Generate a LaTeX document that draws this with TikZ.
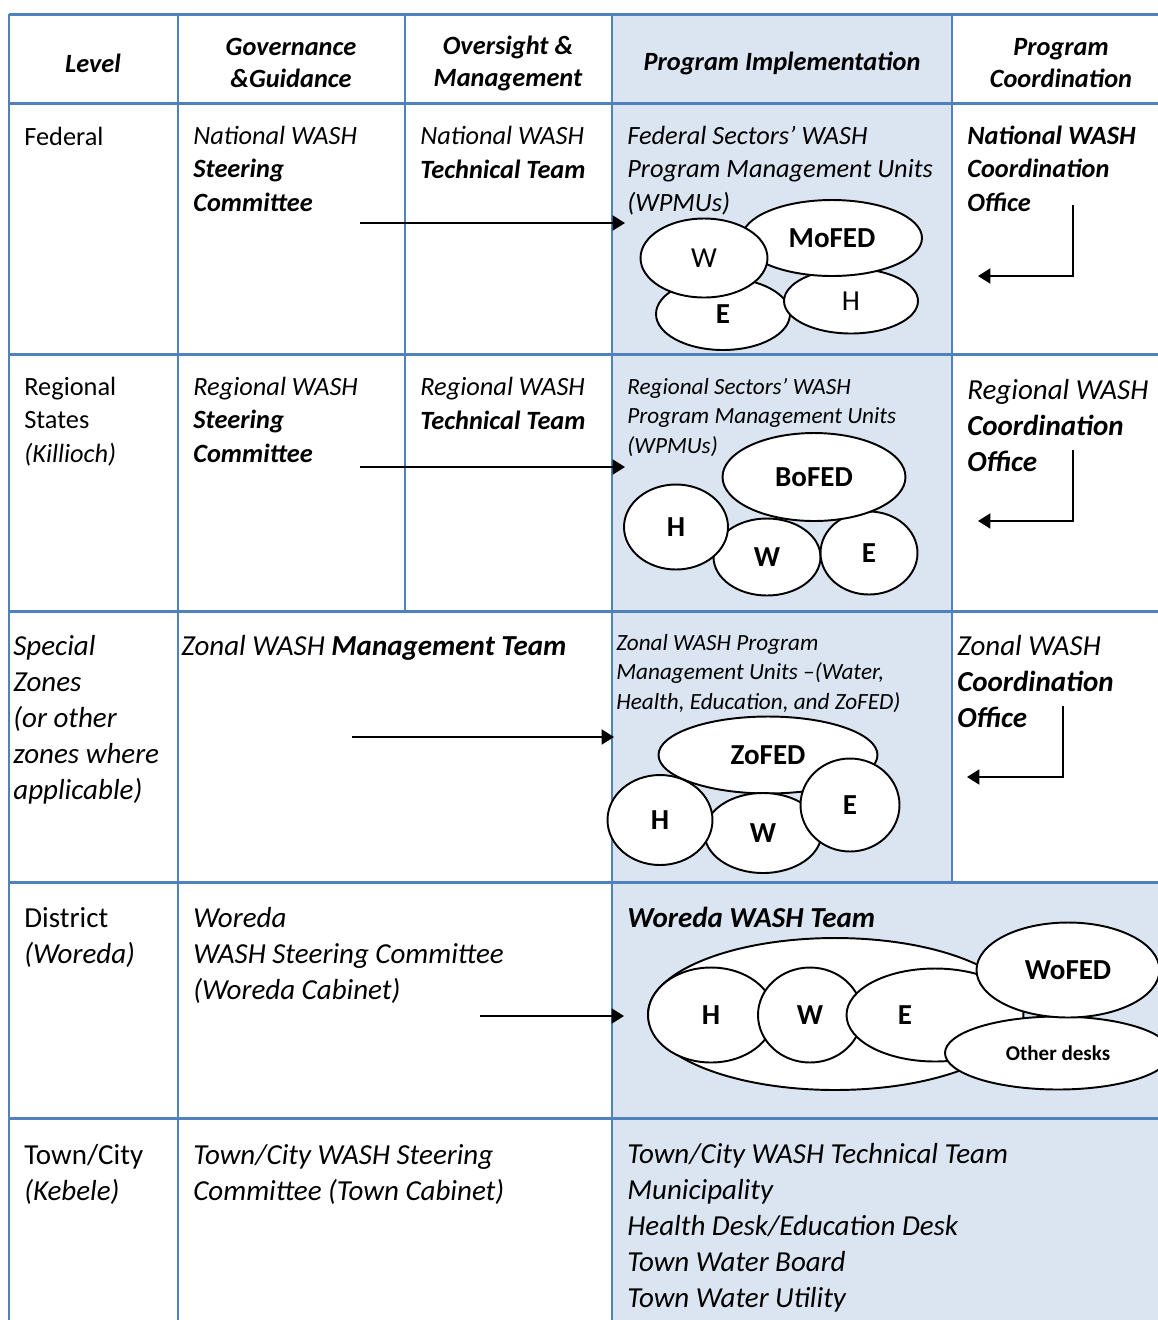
\documentclass[tikz,border=0pt]{standalone}
\usepackage{fontspec}
\setmainfont{Carlito}
\usetikzlibrary{arrows.meta,shapes.geometric}
\definecolor{gridline}{HTML}{4F81BD}
\definecolor{cellfill}{HTML}{DBE5F1}
\tikzset{
  rules/.style={draw=gridline, line width=1.7pt},
  head/.style={anchor=center, inner sep=0pt, align=center, font=\fontsize{15}{18.2}\selectfont\bfseries\itshape},
  txt/.style={anchor=base west, inner sep=0pt, align=left, font=\fontsize{15}{18.8}\selectfont},
  itxt/.style={anchor=base west, inner sep=0pt, align=left, font=\fontsize{15}{18.8}\selectfont\itshape},
  btxt/.style={anchor=base west, inner sep=0pt, align=left, font=\fontsize{15}{18.8}\selectfont\bfseries\itshape},
  smalltxt/.style={anchor=base west, inner sep=0pt, align=left, font=\fontsize{13.2}{16.7}\selectfont\itshape},
  bigtxt/.style={anchor=base west, inner sep=0pt, align=left, font=\fontsize{16.5}{20.4}\selectfont},
  bigitxt/.style={anchor=base west, inner sep=0pt, align=left, font=\fontsize{16.5}{20.4}\selectfont\itshape},
  unit/.style={draw, ellipse, fill=white, line width=1.1pt, inner sep=0pt, font=\fontsize{16.5}{16.5}\selectfont\bfseries},
  flow/.style={-{Triangle[length=7pt,width=8.5pt]}, line width=1.1pt},
}
\begin{document}
\begin{tikzpicture}[x=0.02cm, y=-0.02cm]
\useasboundingbox (0,0) rectangle (1158,1320);
\fill [white] (0,0) rectangle (1158,1320);
%
\fill [cellfill] (612,14) rectangle (952,882);
\fill [cellfill] (612,882) rectangle (1158,1320);
%
% header
\node [head] (hLvl) at (93,63)   {Level};
\node [head] (hGov) at (291,63)  {Governance\\\&Guidance};
\node [head] (hOvs) at (508,63)  {Oversight \&\\Management};
\node [head] (hImp) at (782,63)  {Program Implementation};
\node [head] (hCrd) at (1061,63) {Program\\Coordination};
%
% federal (y = baseline of last line)
\node [txt]  (fedLvl) at (24,145)  {Federal};
\node [itxt] (fedGov) at (193,211) {National WASH\\\textbf{Steering}\\\textbf{Committee}};
\node [itxt] (fedOvs) at (420,178) {National WASH\\\textbf{Technical Team}};
\node [itxt] (fedImp) at (627,211) {Federal Sectors’ WASH\\Program Management Units\\(WPMUs)};
\node [btxt] (fedCrd) at (967,211) {National WASH\\Coordination\\Office};
%
% regional
\node [txt]  (regLvl) at (24,462)  {Regional\\States\\\textit{(Killioch)}};
\node [itxt] (regGov) at (193,462) {Regional WASH\\\textbf{Steering}\\\textbf{Committee}};
\node [itxt] (regOvs) at (420,429) {Regional WASH\\\textbf{Technical Team}};
\node [smalltxt] (regImp) at (627,453) {Regional Sectors’ WASH\\Program Management Units\\(WPMUs)};
\node [bigitxt] (regCrd) at (967,471) {Regional WASH\\\textbf{Coordination}\\\textbf{Office}};
%
% special zones
\node [bigitxt] (spcLvl) at (13,799)  {Special\\Zones\\(or other\\zones where\\applicable)};
\node [bigitxt] (spcGov) at (181,655) {Zonal WASH \textbf{Management Team}};
\node [smalltxt] (spcImp) at (616,709) {Zonal WASH Program\\Management Units –(Water,\\Health, Education, and ZoFED)};
\node [bigitxt] (spcCrd) at (957,727) {Zonal WASH\\\textbf{Coordination}\\\textbf{Office}};
%
% district
\node [bigtxt]  (disLvl) at (24,963)  {District\\\textit{(Woreda)}};
\node [bigitxt] (disGov) at (193,999) {Woreda\\WASH Steering Committee\\(Woreda Cabinet)};
\node [bigitxt] (disImp) at (627,927) {\textbf{Woreda WASH Team}};
%
% town
\node [bigtxt]  (twnLvl) at (24,1200)  {Town/City\\\textit{(Kebele)}};
\node [bigitxt] (twnGov) at (193,1200) {Town/City WASH Steering\\Committee (Town Cabinet)};
\node [bigitxt] (twnImp) at (627,1307) {Town/City WASH Technical Team\\Municipality\\Health Desk/Education Desk\\Town Water Board\\Town Water Utility};
%
% table rules
\draw [rules] (9,14) -- (1158,14);
\foreach \y in {103,354,611,882,1118}
  \draw [rules] (9,\y) -- (1158,\y);
\draw [rules] (9,14) -- (9,1320);
\draw [rules] (178,14) -- (178,1320);
\draw [rules] (405,14) -- (405,611);
\draw [rules] (612,14) -- (612,1320);
\draw [rules] (952,14) -- (952,882);
%
% federal units
\node [unit, minimum width=2.68cm, minimum height=1.44cm] (fE)  at (723,314) {E};
\node [unit, minimum width=2.68cm, minimum height=1.30cm] (fH)  at (851,301) {\mdseries H};
\node [unit, minimum width=3.60cm, minimum height=1.52cm] (fMo) at (832,238) {MoFED};
\node [unit, minimum width=2.54cm, minimum height=1.58cm] (fW)  at (704,258) {\mdseries W};
%
% regional units
\node [unit, minimum width=2.14cm, minimum height=1.54cm] (rW)  at (767,557) {W};
\node [unit, minimum width=1.94cm, minimum height=1.66cm] (rE)  at (869,553) {E};
\node [unit, minimum width=2.08cm, minimum height=1.70cm] (rH)  at (676,527) {H};
\node [unit, minimum width=3.66cm, minimum height=1.76cm] (rBo) at (814,477) {BoFED};
%
% zonal units
\node [unit, minimum width=4.38cm, minimum height=1.54cm] (zZo) at (768,755) {ZoFED};
\node [unit, minimum width=2.34cm, minimum height=1.60cm] (zW)  at (763,833) {W};
\node [unit, minimum width=2.10cm, minimum height=1.80cm] (zH)  at (660,820) {H};
\node [unit, minimum width=1.98cm, minimum height=1.86cm] (zE)  at (850,805) {E};
%
% woreda units
\draw [fill=white, line width=1.1pt] (835,1014) ellipse [x radius=3.74cm, y radius=1.52cm];
\node [unit, minimum width=2.52cm, minimum height=1.90cm] (dH)   at (711,1015) {H};
\node [unit, minimum width=2.08cm, minimum height=1.90cm] (dW)   at (810,1015) {W};
\node [unit, minimum width=3.54cm, minimum height=1.86cm] (dE)   at (935,1015) {E\hspace*{1.2cm}};
\node [unit, minimum width=4.52cm, minimum height=1.46cm, font=\fontsize{12}{12}\selectfont\bfseries] (dOth) at (1058,1053) {Other desks};
\node [unit, minimum width=3.66cm, minimum height=1.90cm] (dWo)  at (1068,970) {WoFED};
%
% arrows
\coordinate (fedA) at (360,223);  \coordinate (fedB) at (625,223);
\coordinate (regA) at (360,467);  \coordinate (regB) at (625,467);
\coordinate (spcA) at (352,737);  \coordinate (spcB) at (614,737);
\coordinate (disA) at (480,1016); \coordinate (disB) at (624,1016);
\draw [flow] (fedA) -- (fedB);
\draw [flow] (regA) -- (regB);
\draw [flow] (spcA) -- (spcB);
\draw [flow] (disA) -- (disB);
%
\coordinate (fedC) at (1073,205); \coordinate (fedD) at (978,276);
\coordinate (regC) at (1073,450); \coordinate (regD) at (978,521);
\coordinate (spcC) at (1063,706); \coordinate (spcD) at (967,777);
\draw [flow] (fedC) |- (fedD);
\draw [flow] (regC) |- (regD);
\draw [flow] (spcC) |- (spcD);
\end{tikzpicture}
\end{document}
